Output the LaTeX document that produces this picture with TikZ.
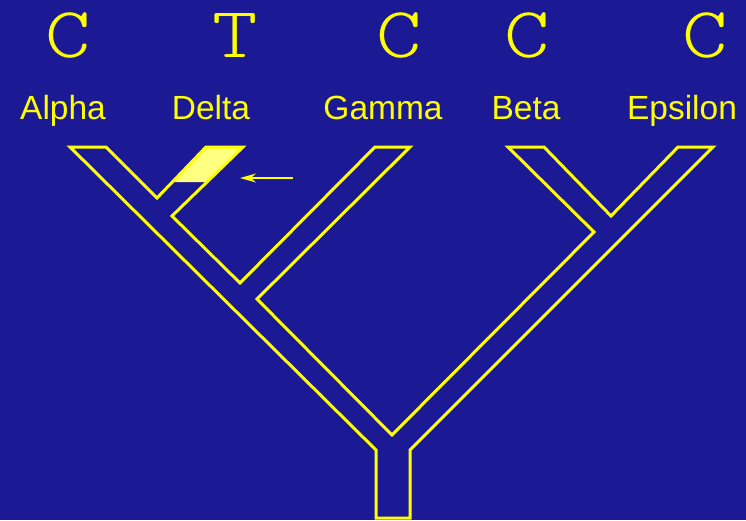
\documentclass[tikz,border=0pt]{standalone}
\usepackage{fontspec}
\setmainfont{Liberation Sans}
\newfontfamily\basefont[FakeStretch=1.2]{Latin Modern Mono Light}
\usetikzlibrary{arrows.meta}
\definecolor{slide}{RGB}{27,25,147}
\definecolor{lemon}{RGB}{255,255,0}
\definecolor{pale}{RGB}{255,255,128}

\begin{document}
\begin{tikzpicture}[x=1pt, y=-1pt,
		base/.style={font=\basefont\fontsize{72}{80}\selectfont, text=lemon, anchor=base, inner sep=0},
		taxon/.style={font=\fontsize{33.5}{40}\selectfont, text=lemon, anchor=base, inner sep=0}]
		%%%%% START %%%%%
		\fill[slide] (0, 0) rectangle (746, 520);
		\useasboundingbox (0, 0) rectangle (746, 520);
		
		% bases at the site
		\node[base] (baseA) at (68, 57) {C};
		\node[base] (baseD) at (235, 57) {T};
		\node[base] (baseG) at (399, 57) {C};
		\node[base] (baseB) at (527, 57) {C};
		\node[base] (baseE) at (705, 57) {C};
		
		% taxa
		\node[taxon] (alpha) at (63, 119) {Alpha};
		\node[taxon] (delta) at (211, 119) {Delta};
		\node[taxon] (gamma) at (383, 119) {Gamma};
		\node[taxon] (beta) at (526, 119) {Beta};
		\node[taxon] (epsilon) at (682, 119) {Epsilon};
		
		% change on the Delta branch
		\fill[pale] (206, 147) -- (243, 147) -- (208, 182) -- (171, 182) -- cycle;
		
		% tree as one tube
		\draw[lemon, line width=3] (70, 147) -- (106, 147) -- (157, 198) -- (206, 147) -- (243, 147)
			-- (172, 216) -- (240, 283) -- (375, 147) -- (410, 147) -- (257, 299) -- (392, 435)
			-- (594, 232) -- (508, 147) -- (544, 147) -- (611, 216) -- (678, 147) -- (713, 147)
			-- (410, 450) -- (410, 518) -- (376, 518) -- (376, 450) -- cycle;
		
		\coordinate (tail) at (293, 178);
		\coordinate (tip) at (240, 178);
		\draw[lemon, line width=1.5, -{Stealth[length=16pt, width=9pt]}] (tail) -- (tip);
		%%%%% END %%%%%
\end{tikzpicture}
\end{document}
